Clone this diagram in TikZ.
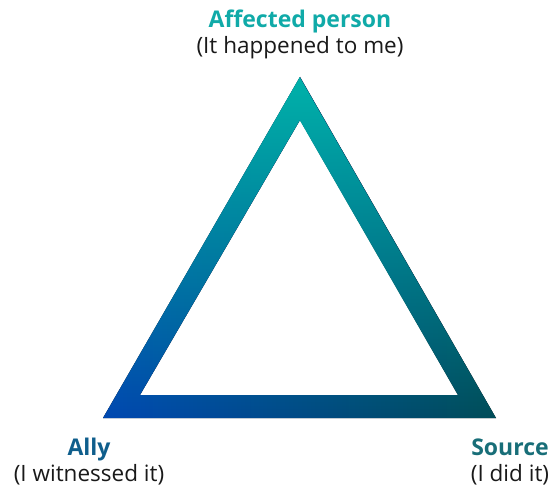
\documentclass[tikz,border=0pt]{standalone}
\usepackage{fontspec}
\setmainfont{Open Sans}
\usepackage{tikz}
\usetikzlibrary{positioning}
\usetikzlibrary{fadings}
\definecolor{apteal}{HTML}{00B2AA}
\definecolor{allyblue}{HTML}{0048B2}
\definecolor{midblue}{HTML}{06629E}
\definecolor{srcdark}{HTML}{004C58}
\definecolor{aptext}{HTML}{10AAA8}
\definecolor{allytext}{HTML}{0F5E8C}
\definecolor{srctext}{HTML}{186E78}
\tikzfading[name=fade south, top color=transparent!0, bottom color=transparent!100]
\tikzset{every picture/.style={x=1pt,y=-1pt},
role/.style={anchor=base,font=\fontsize{23}{27}\selectfont\bfseries},
says/.style={anchor=base,font=\fontsize{22.5}{27}\selectfont,text=black!90}}

\begin{document}
\begin{tikzpicture}
\useasboundingbox (0,0) rectangle (559,492);
\coordinate (a) at (300,77);
\coordinate (b) at (103,418);
\coordinate (c) at (496,418);
\coordinate (ia) at (300,120);
\coordinate (ib) at (140,395);
\coordinate (ic) at (458,395);
\fill[even odd rule, left color=allyblue, middle color=midblue, right color=srcdark,
  postaction={fill=apteal, path fading=fade south}]
  (a) -- (b) -- (c) -- cycle (ia) -- (ib) -- (ic) -- cycle;

\node (ap) at (300,28) [role, text=aptext] {Affected person};
\node (aps) at (300,54) [says] {(It happened to me)};
\node (al) at (89,455) [role, text=allytext] {Ally};
\node (als) at (89,481) [says] {(I witnessed it)};
\node (so) at (510,455) [role, text=srctext] {Source};
\node (sos) at (510,481) [says] {(I did it)};
\end{tikzpicture}
\end{document}
